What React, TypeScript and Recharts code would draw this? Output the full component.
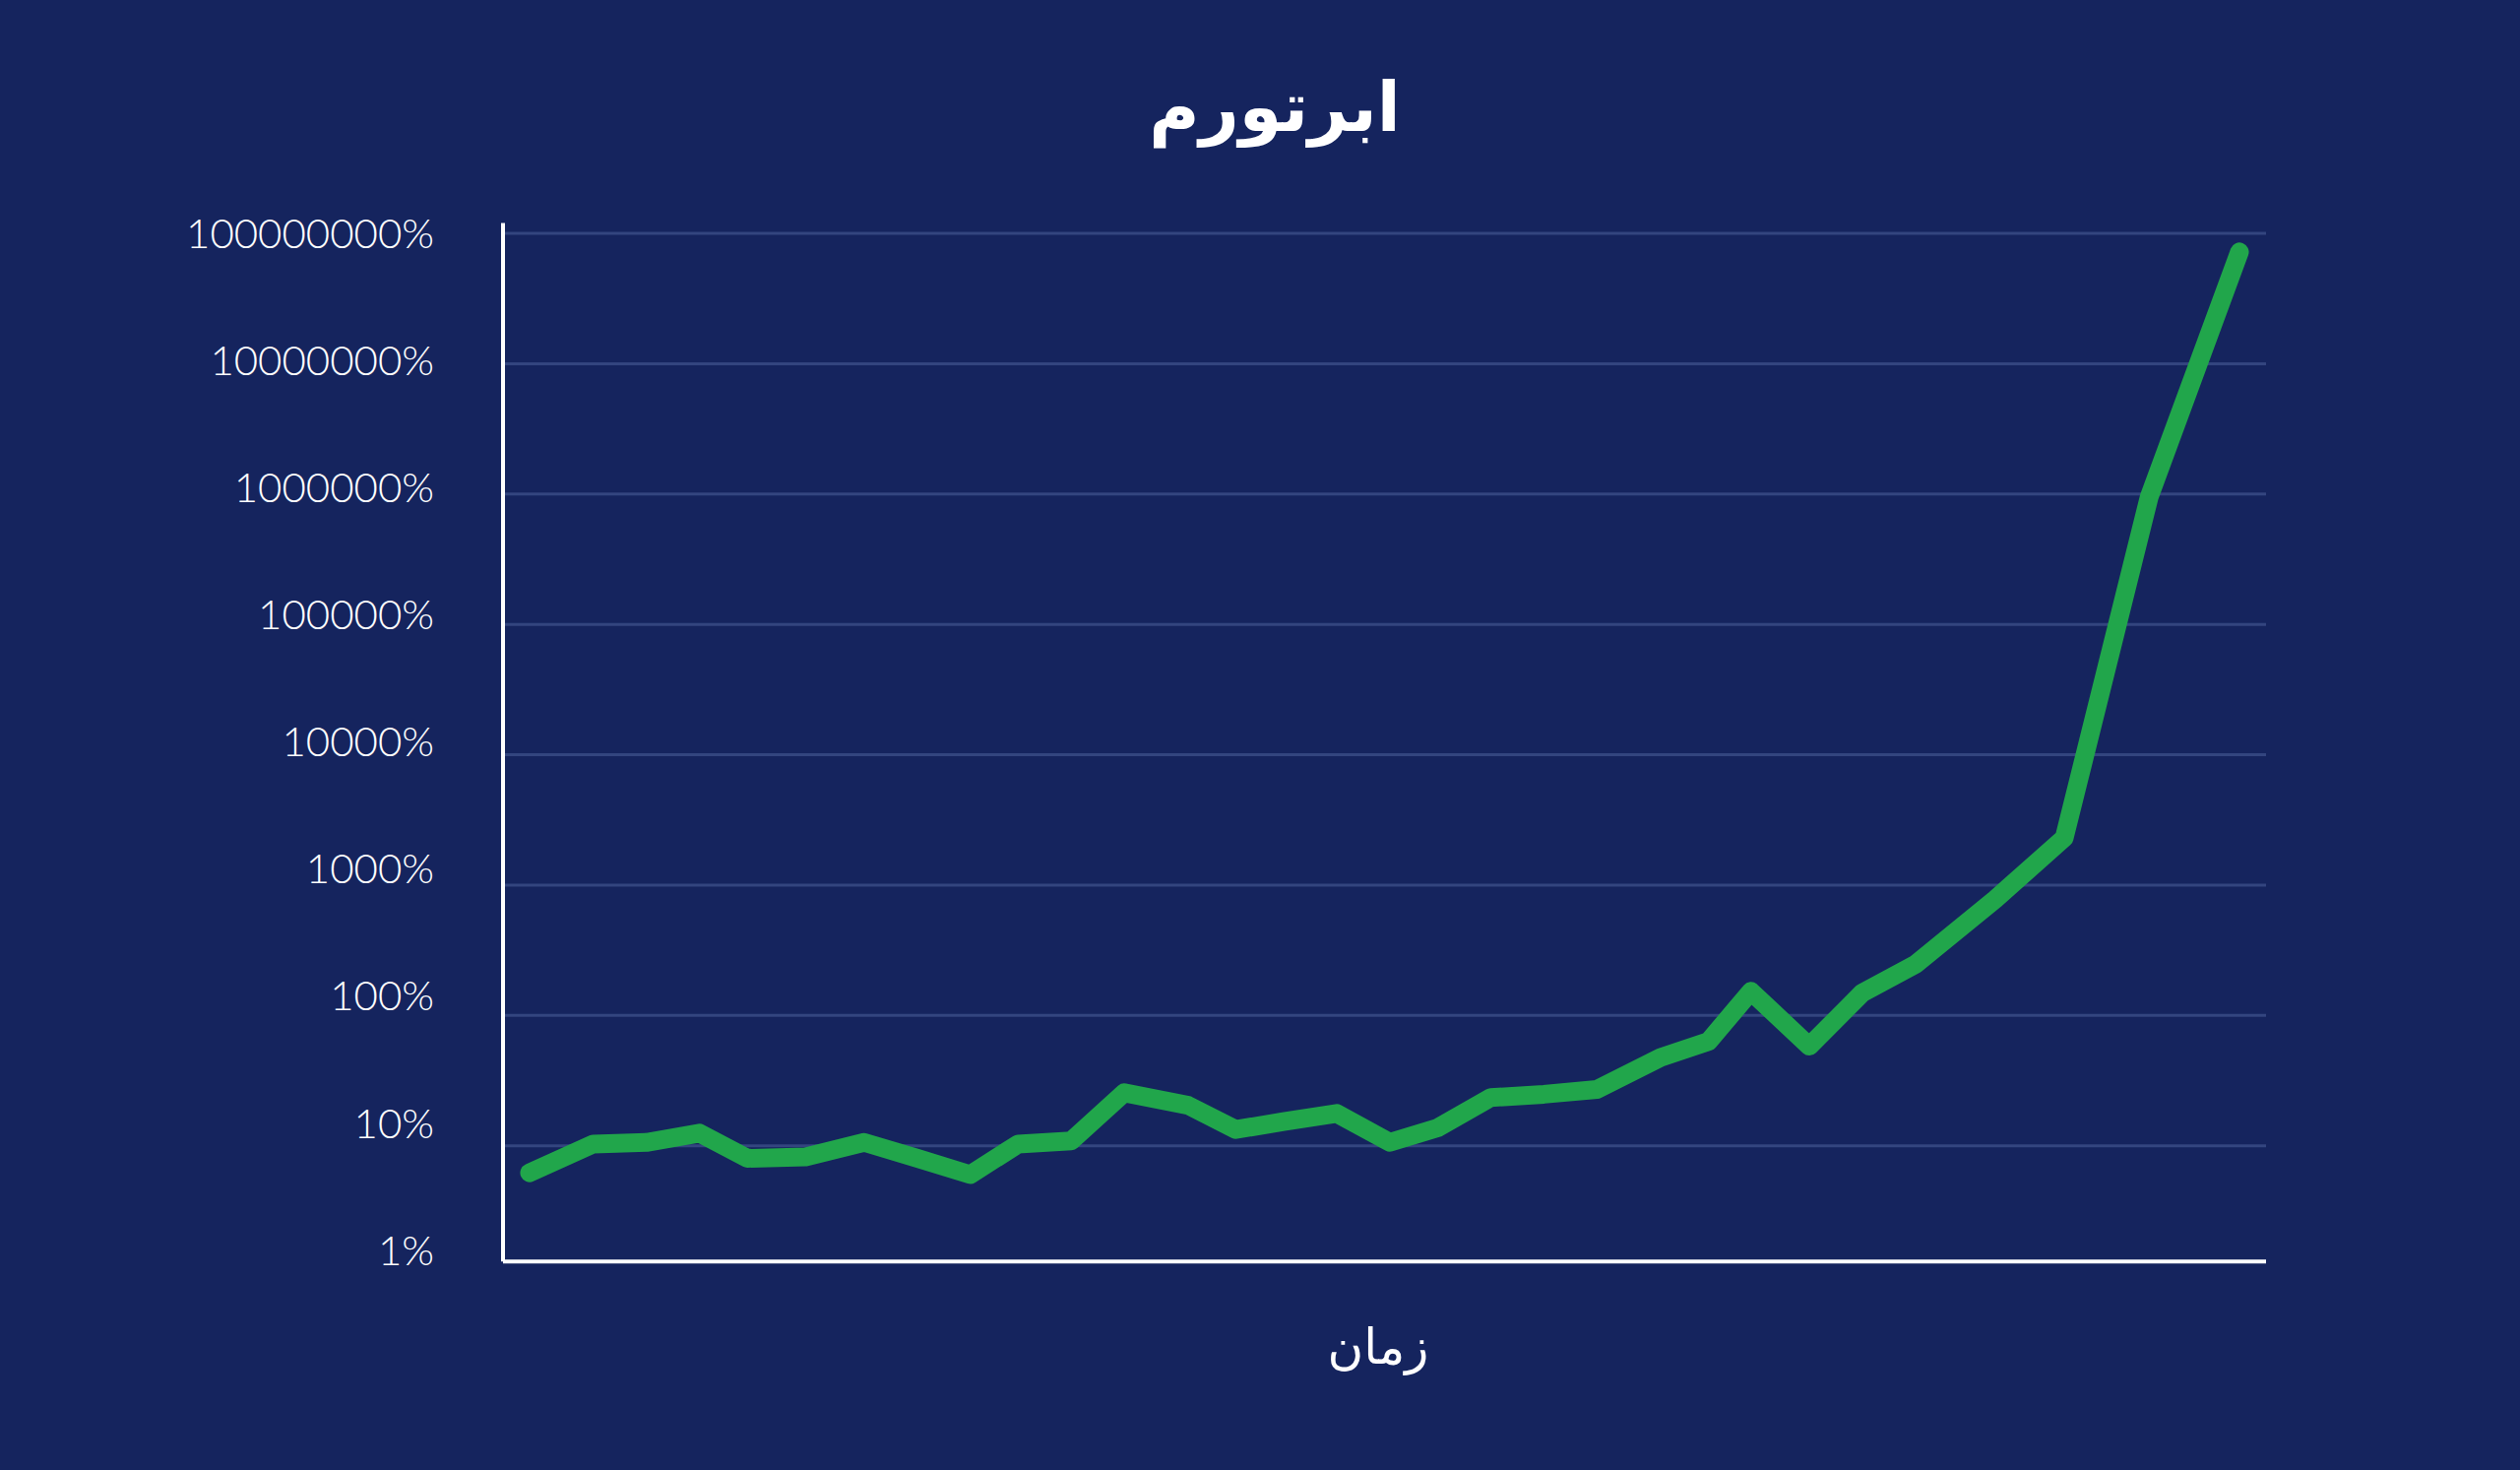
import { LineChart, Line, XAxis, YAxis, ReferenceLine } from 'recharts'

const timeSteps = [
  0, 1.2, 2.2, 3.2, 4.1, 5.2, 6.3, 7.3, 8.3, 9.2, 10.2, 11.2, 12.4, 13.3, 14.2, 15.2,
  16.2, 17.1, 18.1, 19.1, 20.1, 21.3, 22.2, 23.0, 24.1, 25.1, 26.1, 27.6, 28.9, 30.5, 32.2,
]

// inflation rate in percent
const inflationPct = [
  6.2, 10.3, 10.6, 12.5, 8.0, 8.2, 10.6, 8.0, 6.0, 10.3, 10.9, 25.5, 20.4, 13.3, 15.3, 17.7,
  10.6, 13.7, 23.4, 24.8, 27, 47.6, 63, 153, 58, 149, 247, 777, 2300, 950000, 72000000,
]

const yTicks = [1, 10, 100, 1000, 10000, 100000, 1000000, 10000000, 100000000]
const gridValues = yTicks.slice(1)

// the drawn axes: baseline sits a little above 1%, the vertical axis pokes above the top grid
const xDomain = [-0.5, 32.7]
const axisBaseValue = 1.29
const axisTopValue = 1.2e8

const title = 'ابرتورم'
const xLabel = 'زمان'

const data = timeSteps.map((t, i) => ({ t, value: inflationPct[i] }))

function YTick(props: any) {
  const { x, y, payload } = props
  const v = payload.value as number
  // labels drift slightly upward relative to their grid lines towards the bottom
  const drift = -(8 - Math.log10(v)) * 3.3
  return (
    <text
      x={x}
      y={y}
      dy={15 + drift}
      textAnchor="end"
      fill="#ffffff"
      fontSize={42}
      fontFamily="Lato"
      fontWeight={300}
    >
      {`${v}%`}
    </text>
  )
}

export default function App() {
  return (
    <div
      style={{
        position: 'absolute',
        left: 0,
        top: 0,
        width: 2560,
        height: 1493,
        overflow: 'hidden',
        background: '#15245e',
      }}
    >
      <div
        style={{
          position: 'absolute',
          left: 0,
          width: 2590,
          top: 74,
          textAlign: 'center',
          fontFamily: '"DejaVu Sans"',
          fontWeight: 'bold',
          fontSize: 70,
          lineHeight: 1,
          color: '#ffffff',
          direction: 'rtl',
        }}
      >
        {title}
      </div>

      <LineChart
        width={2560}
        height={1493}
        data={data}
        margin={{ top: 237, right: 258, bottom: 197, left: 0 }}
      >
        <XAxis dataKey="t" type="number" domain={xDomain} hide />
        <YAxis
          scale="log"
          domain={[1, 100000000]}
          ticks={yTicks}
          allowDataOverflow
          width={511}
          tickLine={false}
          tickSize={0}
          tickMargin={70}
          axisLine={false}
          tick={<YTick />}
        />
        {gridValues.map((v) => (
          <ReferenceLine key={v} y={v} stroke="#33457f" strokeWidth={3} />
        ))}
        <ReferenceLine y={axisBaseValue} stroke="#ffffff" strokeWidth={4} />
        <ReferenceLine
          segment={[
            { x: xDomain[0], y: axisBaseValue },
            { x: xDomain[0], y: axisTopValue },
          ]}
          ifOverflow="visible"
          stroke="#ffffff"
          strokeWidth={4}
        />
        <Line
          type="linear"
          dataKey="value"
          stroke="#21a64b"
          strokeWidth={19}
          strokeLinecap="round"
          strokeLinejoin="round"
          dot={false}
          activeDot={false}
          isAnimationActive={false}
        />
      </LineChart>

      <div
        style={{
          position: 'absolute',
          left: 1300,
          width: 200,
          top: 1343,
          textAlign: 'center',
          fontFamily: '"DejaVu Sans"',
          fontSize: 50,
          lineHeight: 1,
          color: '#ffffff',
          direction: 'rtl',
        }}
      >
        {xLabel}
      </div>
    </div>
  )
}
